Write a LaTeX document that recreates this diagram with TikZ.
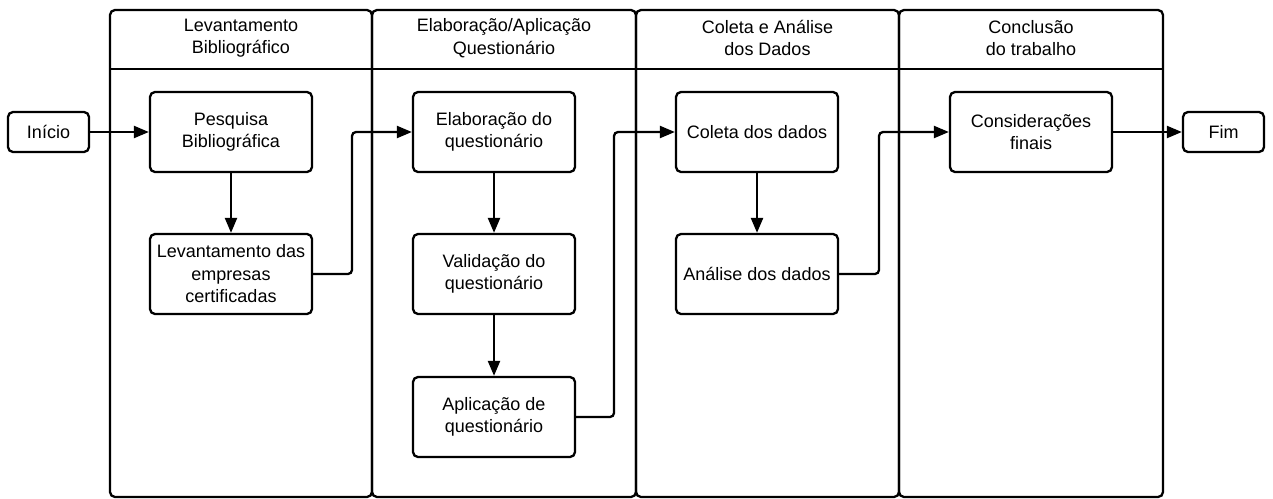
\documentclass[tikz,border=0pt]{standalone}
\usepackage{fontspec}
\setmainfont{Liberation Sans}
\usetikzlibrary{arrows.meta}
\begin{document}
\begin{tikzpicture}[x=1pt,y=-1pt,
  txt/.style={font=\fontsize{18}{22.5}\selectfont, align=center},
  box/.style={txt, draw, line width=2.3pt, rounded corners=5pt,
    minimum width=162pt, minimum height=80pt, inner sep=2pt},
  term/.style={box, minimum width=81pt, minimum height=40pt},
  lane/.style={draw, line width=2.3pt, rounded corners=5pt},
  flow/.style={line width=2.3pt, rounded corners=4pt,
    -{Triangle[length=15pt,width=12pt]}}
]
\useasboundingbox (0,0) rectangle (1273,498);

% swimlanes
\foreach \xa/\xb in {110/372, 372/636, 636/899, 899/1163} {
  \draw[lane] (\xa,10) rectangle (\xb,497);
  \draw[line width=2.3pt] (\xa,69) -- (\xb,69);
}

% lane headers
\node[txt] (h1) at (241,38) {Levantamento\\Bibliográfico};
\node[txt] (h2) at (504,38) {Elaboração/Aplicação\\Questionário};
\node[txt] (h3) at (767.5,38) {Coleta e Análise\\dos Dados};
\node[txt] (h4) at (1031,38) {Conclusão\\do trabalho};

% steps
\node[term] (ini) at (48.5,132) {Início};
\node[box] (pesq) at (231,132) {Pesquisa\\Bibliográfica};
\node[box] (lev) at (231,274) {Levantamento das\\empresas\\certificadas};
\node[box] (elab) at (494,132) {Elaboração do\\questionário};
\node[box] (val) at (494,274) {Validação do\\questionário};
\node[box] (apl) at (494,417) {Aplicação de\\questionário};
\node[box] (col) at (757,132) {Coleta dos dados};
\node[box] (ana) at (757,274) {Análise dos dados};
\node[box] (cons) at (1031,132) {Considerações\\finais};
\node[term] (fim) at (1223.5,132) {Fim};

% routing columns for the lane-crossing connectors
\coordinate (r1) at (352,132);
\coordinate (r2) at (614,132);
\coordinate (r3) at (879,132);

% connectors
\draw[flow] (ini) -- (pesq);
\draw[flow] (pesq) -- (lev);
\draw[flow] (lev.east) -- (lev.east -| r1) |- (elab.west);
\draw[flow] (elab) -- (val);
\draw[flow] (val) -- (apl);
\draw[flow] (apl.east) -- (apl.east -| r2) |- (col.west);
\draw[flow] (col) -- (ana);
\draw[flow] (ana.east) -- (ana.east -| r3) |- (cons.west);
\draw[flow] (cons) -- (fim);
\end{tikzpicture}
\end{document}
